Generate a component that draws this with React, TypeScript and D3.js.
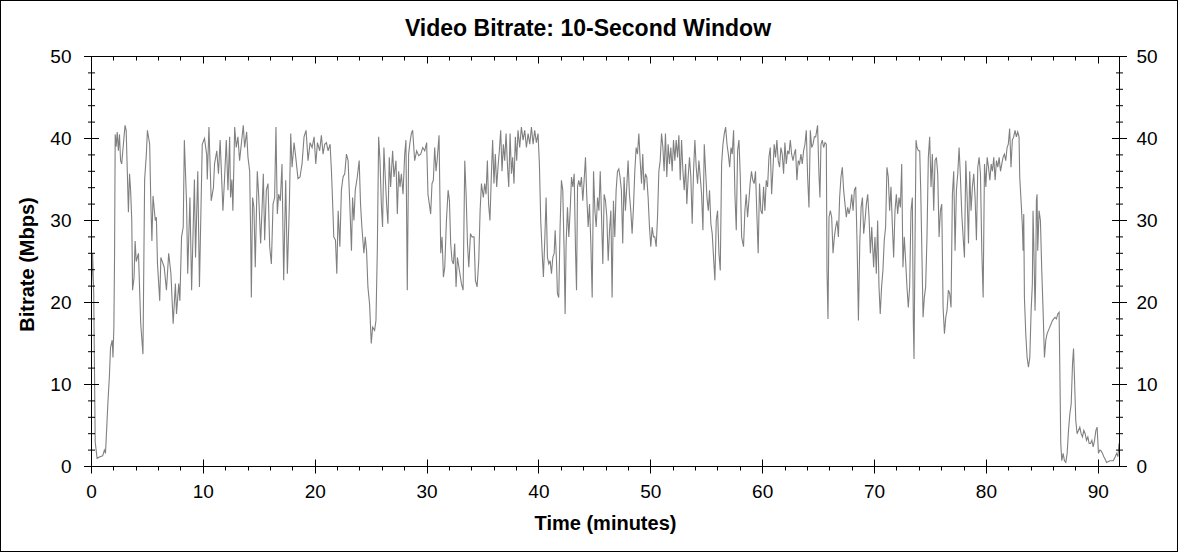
import React, { useEffect, useRef } from 'react';
import * as d3 from 'd3';

const title = 'Video Bitrate: 10-Second Window';
const xTitle = 'Time (minutes)';
const yTitle = 'Bitrate (Mbps)';
const xTicks = [0, 10, 20, 30, 40, 50, 60, 70, 80, 90];
const yTicks = [0, 10, 20, 30, 40, 50];
const xMax = 91.9;
const yMax = 50;

// [minute, Mbps]
const bitrate: [number, number][] = [
  [0, 22], [0.1, 26], [0.2, 21], [0.33, 3], [0.5, 1.0], [0.75, 1.2], [1.0, 1.3], [1.15, 2.0], [1.25, 1.6],
  [1.35, 4.4], [1.46, 7.6], [1.6, 11], [1.7, 14.5], [1.85, 15.4], [1.92, 13.3], [2.0, 17], [2.06, 25.5],
  [2.12, 40.5], [2.2, 39], [2.3, 40.8], [2.4, 38.5], [2.5, 40.5], [2.6, 37.3], [2.7, 36.9], [2.8, 38.5],
  [3.0, 41.6], [3.1, 41], [3.2, 36], [3.3, 31], [3.4, 35.7], [3.5, 33.6], [3.6, 30], [3.67, 21.5], [3.8, 23],
  [3.9, 27.5], [4.0, 25], [4.2, 26], [4.4, 17.4], [4.6, 13.7], [4.75, 35], [4.9, 38], [5.0, 41], [5.2, 39.3],
  [5.3, 32.4], [5.4, 27.5], [5.5, 33], [5.7, 30], [5.8, 30.4], [5.9, 24.7], [6.1, 20.2], [6.2, 25.5],
  [6.5, 24.3], [6.7, 21.5], [6.9, 26], [7.1, 23.5], [7.3, 17.4], [7.5, 22.3], [7.6, 18.6], [7.8, 22.3],
  [7.9, 20.2], [8.05, 28], [8.2, 29.2], [8.3, 39.8], [8.5, 32], [8.6, 23.5], [8.8, 32.8], [8.95, 21.5],
  [9.2, 35], [9.3, 25.5], [9.5, 36], [9.65, 21.9], [9.9, 39.3], [10.1, 40], [10.3, 38], [10.35, 35],
  [10.5, 41.4], [10.7, 32.4], [10.9, 34], [11.0, 36.9], [11.2, 38.5], [11.35, 35.7], [11.5, 39.8],
  [11.75, 31.2], [11.9, 35.3], [12.05, 39.8], [12.2, 33.7], [12.35, 40.2], [12.43, 32.8], [12.55, 35],
  [12.64, 31.2], [12.8, 41.4], [12.94, 38.9], [13.09, 40.2], [13.24, 37.3], [13.39, 39.3], [13.57, 41.6],
  [13.69, 38.9], [13.87, 40.8], [13.99, 37.7], [14.14, 36], [14.23, 28], [14.29, 20.6], [14.4, 32.8],
  [14.52, 31.6], [14.64, 24.3], [14.82, 36], [14.94, 33.2], [15.12, 27.2], [15.24, 31.2], [15.36, 35.7],
  [15.48, 27.6], [15.63, 33.7], [15.78, 34.5], [15.93, 26.8], [16.08, 24.7], [16.23, 32], [16.37, 32.8],
  [16.49, 41.4], [16.61, 30.8], [16.73, 33.2], [16.88, 32.4], [17.03, 36.9], [17.18, 22.7], [17.36, 34.9],
  [17.51, 23.5], [17.69, 32], [17.81, 40.6], [17.93, 36.5], [18.11, 39.5], [18.26, 37.7], [18.46, 35.1],
  [18.64, 35.3], [18.82, 36.9], [19.0, 40.2], [19.18, 41], [19.36, 37.3], [19.54, 39.5], [19.72, 38.9],
  [19.9, 40.2], [20.05, 36.9], [20.2, 39.5], [20.4, 38.5], [20.55, 40.4], [20.7, 38.1], [20.85, 39.3],
  [21.0, 39.5], [21.15, 38.5], [21.33, 39.3], [21.45, 36], [21.54, 32.8], [21.66, 28], [21.81, 27.6],
  [21.93, 23.5], [22.05, 31.2], [22.2, 26.8], [22.34, 33.7], [22.49, 35.3], [22.64, 35.7], [22.79, 38.1],
  [22.94, 37.3], [23.09, 32], [23.24, 26.3],
  [23.34, 32.8], [23.46, 30], [23.58, 33.7], [23.76, 35.3], [23.93, 37.3], [24.05, 32], [24.17, 29.2],
  [24.35, 26], [24.47, 28], [24.59, 26.3], [24.71, 21.9], [24.86, 19.8], [25.01, 15], [25.13, 17],
  [25.31, 16.6], [25.43, 17.8], [25.55, 26.3], [25.67, 40.2], [25.79, 37.3], [25.91, 32], [26.02, 29.2],
  [26.14, 38.9], [26.26, 35.3], [26.38, 32], [26.5, 29.6], [26.62, 37.7], [26.74, 34.1], [26.92, 38.5],
  [27.04, 35.3], [27.22, 37.3], [27.34, 30.8], [27.46, 36], [27.58, 34.1], [27.7, 35.7], [27.85, 33.2],
  [28.0, 38.1], [28.11, 39.8], [28.23, 21.5], [28.35, 38.1], [28.47, 39.5], [28.59, 40.6], [28.71, 41],
  [28.89, 37.3], [29.07, 38.5], [29.25, 37.9], [29.43, 38.1], [29.61, 38.9], [29.79, 38.5], [29.96, 39.5],
  [30.08, 33.2], [30.2, 32], [30.32, 30.8], [30.44, 34.5], [30.56, 34.9], [30.68, 38.9], [30.8, 36],
  [30.92, 37.7], [31.07, 40.4], [31.22, 26], [31.34, 28], [31.46, 23.1], [31.58, 24.3], [31.73, 30],
  [31.88, 33.7], [32.0, 32.4], [32.11, 27.2], [32.23, 25.1], [32.35, 24.7], [32.47, 27.2], [32.59, 21.9],
  [32.71, 25.5], [32.89, 23.9], [33.07, 22.3], [33.22, 21.5], [33.37, 37.3], [33.49, 33.2], [33.61, 27.2],
  [33.73, 24.3], [33.88, 28.4], [34.02, 28], [34.2, 28], [34.32, 22.7], [34.47, 21.9], [34.62, 25.1],
  [34.74, 31.2], [34.86, 34.5],
  [35.03, 32.8], [35.15, 34.5], [35.27, 33.2], [35.39, 37.3], [35.5, 32], [35.62, 30], [35.74, 35.3],
  [35.86, 39.8], [35.98, 34.5], [36.1, 38.1], [36.22, 34.1], [36.34, 36.5], [36.46, 38.5], [36.58, 41],
  [36.7, 36], [36.82, 39.3], [36.94, 37.3], [37.06, 40.6], [37.18, 36.9], [37.3, 34.1], [37.42, 40.6],
  [37.54, 35.7], [37.65, 37.7], [37.77, 34.5], [37.89, 40.2], [38.01, 37.3], [38.13, 41], [38.28, 38.9],
  [38.43, 41.4], [38.58, 39.8], [38.73, 41], [38.88, 38.9], [39.03, 40.6], [39.18, 39.3], [39.33, 41.4],
  [39.48, 39.3], [39.62, 41], [39.77, 39.5], [39.92, 40.6], [40.04, 36.9], [40.16, 30], [40.28, 26.3],
  [40.4, 23.1], [40.52, 27.6], [40.64, 32.8], [40.76, 25.5], [40.88, 24.7], [41.0, 25.1], [41.12, 23.5],
  [41.24, 25.5], [41.36, 26], [41.45, 28.8], [41.57, 25.1], [41.65, 21.1], [41.77, 20.6], [41.89, 29.2],
  [42.01, 34.9], [42.13, 33.7], [42.25, 26.3], [42.34, 18.6], [42.43, 27.2], [42.55, 31.6], [42.67, 28],
  [42.79, 31.2], [42.91, 35.3], [43.03, 34.1], [43.15, 35.7], [43.27, 26.3], [43.36, 21.5], [43.45, 34.1],
  [43.56, 34.9], [43.68, 34.1], [43.8, 35.3], [43.92, 32.4], [44.04, 34.9], [44.16, 37.7], [44.28, 32.8],
  [44.4, 29.2], [44.52, 32], [44.64, 27.2], [44.76, 20.6], [44.88, 36], [45.0, 31.2], [45.12, 29.2],
  [45.24, 32.8], [45.36, 31.2], [45.48, 36], [45.59, 30.8], [45.71, 24.7], [45.83, 33.2], [45.95, 32.4],
  [46.07, 30.4], [46.19, 25.1], [46.31, 28.8], [46.43, 31.2], [46.54, 20.6],
  [46.66, 32.4], [46.78, 28], [46.9, 33.7], [47.02, 36], [47.14, 36.3], [47.25, 35.3], [47.37, 33.7],
  [47.49, 27.2], [47.61, 35.3], [47.73, 31.2], [47.85, 34.1], [47.97, 37.3], [48.09, 33.2], [48.21, 31.2],
  [48.33, 28.4], [48.45, 31.6], [48.57, 36], [48.69, 38.9], [48.81, 38.1], [48.93, 40.6], [49.05, 37.3],
  [49.17, 34.5], [49.28, 38.1], [49.4, 33.7], [49.52, 35.7], [49.64, 35.3], [49.76, 32.8], [49.88, 29.2],
  [50.0, 26.8], [50.12, 29.2], [50.24, 28], [50.36, 28], [50.48, 26.8], [50.6, 30.4], [50.72, 36],
  [50.84, 37.3], [50.96, 40.6], [51.08, 38.9], [51.19, 36], [51.31, 40.6], [51.43, 35.3], [51.55, 39.3],
  [51.67, 36.9], [51.79, 38.9], [51.91, 36], [52.03, 39.8], [52.15, 37.3], [52.27, 39.8], [52.39, 37.7],
  [52.51, 40.4], [52.63, 34.9], [52.75, 39.8], [52.87, 36], [52.99, 33.7], [53.11, 36.9], [53.22, 32],
  [53.34, 35.3], [53.46, 37.7], [53.58, 35.3], [53.7, 29.6], [53.82, 36], [53.94, 39.8], [54.06, 36.5],
  [54.18, 34.5], [54.3, 37.3], [54.42, 35.3], [54.54, 33.2], [54.66, 28.8], [54.78, 39.3], [54.9, 36],
  [55.02, 32.8], [55.14, 31.2], [55.25, 33.7], [55.37, 29.6], [55.49, 28.4], [55.61, 25.5], [55.73, 22.7],
  [55.85, 30], [55.97, 31.2], [56.09, 26], [56.21, 23.9], [56.33, 36.9], [56.45, 39.3], [56.57, 40.6],
  [56.69, 41.4], [56.81, 39.3], [56.93, 38.1], [57.05, 36.5], [57.17, 38.9], [57.28, 38.1], [57.4, 41],
  [57.52, 33.2], [57.64, 28.8], [57.76, 38.5], [57.88, 39.8], [58.0, 35.3], [58.12, 28],
  [58.29, 26.8], [58.41, 31.2], [58.53, 33.2], [58.65, 30.4], [58.77, 32.4], [58.88, 34.5], [59.0, 36],
  [59.12, 34.9], [59.24, 34.5], [59.36, 36], [59.48, 30.8], [59.6, 26], [59.72, 34.5], [59.84, 31.2],
  [59.96, 30.8], [60.08, 34.1], [60.2, 31.2], [60.32, 34.9], [60.44, 34.1], [60.56, 37.7], [60.68, 38.9],
  [60.8, 33.2], [60.91, 36], [61.03, 39.3], [61.15, 37.7], [61.27, 39.8], [61.39, 37.3], [61.51, 36.5],
  [61.63, 38.9], [61.75, 38.1], [61.87, 35.7], [61.99, 39.5], [62.11, 36.9], [62.23, 38.5], [62.35, 38.1],
  [62.47, 39.8], [62.59, 38.1], [62.71, 37.3], [62.82, 38.1], [62.94, 38.7], [63.06, 34.9], [63.18, 37.3],
  [63.3, 36.9], [63.42, 38.1], [63.54, 36.9], [63.66, 38.5], [63.78, 39.3], [63.9, 41], [64.02, 35.3],
  [64.14, 31.6], [64.26, 41], [64.38, 38.9], [64.5, 39.3], [64.62, 40.2], [64.74, 40.2], [64.91, 41.6],
  [65.03, 35.7], [65.12, 32.8], [65.21, 39.3], [65.33, 39.8], [65.45, 38.9], [65.57, 39.5], [65.69, 39.3],
  [65.75, 23.9], [65.84, 18], [65.93, 30.4], [66.05, 31.2], [66.17, 30.4], [66.29, 26], [66.41, 28],
  [66.53, 29.2], [66.65, 30], [66.77, 28], [66.88, 32.8], [67.0, 35.3], [67.12, 36.5], [67.24, 33.7],
  [67.36, 32], [67.48, 30.4], [67.6, 31.6], [67.72, 30.8], [67.84, 31.6], [67.96, 33.2], [68.08, 31.2],
  [68.2, 33.7], [68.32, 34.1], [68.44, 27.2], [68.56, 17.8], [68.68, 27.2], [68.8, 31.6], [68.92, 32.8],
  [69.03, 28.4], [69.15, 30], [69.27, 32], [69.39, 33.2], [69.51, 30.4], [69.63, 26], [69.75, 29.2],
  [69.92, 24.3], [70.04, 28], [70.16, 23.5], [70.28, 30], [70.4, 21.9], [70.51, 18.6], [70.63, 21.9],
  [70.75, 23.9], [70.87, 27.6], [70.99, 29.2], [71.11, 36.5], [71.23, 35.3], [71.35, 31.2], [71.47, 34.1],
  [71.59, 29.6], [71.71, 25.5], [71.83, 31.2], [71.95, 33.2], [72.07, 30.8], [72.19, 32.8], [72.31, 31.6],
  [72.43, 36.9], [72.54, 24.3], [72.66, 28], [72.78, 25.1], [72.9, 21.9], [73.02, 19.4], [73.14, 21.9],
  [73.26, 31.2], [73.38, 32.8], [73.47, 17.4], [73.53, 13.1], [73.62, 27.2], [73.71, 39.8], [73.8, 38.9],
  [73.92, 38.5], [74.04, 38.5], [74.13, 33.7], [74.22, 27.2], [74.34, 18.2], [74.45, 20.6], [74.57, 21.9],
  [74.69, 28], [74.81, 37.7], [74.93, 40.2], [75.05, 34.1], [75.17, 38.1], [75.29, 31.2], [75.41, 37.3],
  [75.53, 37.7], [75.65, 35.7], [75.77, 28], [75.89, 31.2], [76.01, 32], [76.13, 19.4], [76.25, 16.2],
  [76.37, 18.2], [76.48, 19], [76.6, 21.5], [76.72, 21.1], [76.84, 19.4], [76.96, 33.2], [77.08, 36],
  [77.2, 26.3], [77.32, 33.7], [77.44, 35.7], [77.56, 38.9], [77.68, 35.3], [77.8, 30.8], [77.92, 28],
  [78.04, 25.5], [78.16, 37.3], [78.28, 32.8], [78.4, 27.2], [78.51, 36], [78.63, 31.2], [78.75, 34.1],
  [78.87, 35.7], [78.99, 32.8], [79.11, 27.6], [79.23, 36.5], [79.35, 37.7], [79.47, 35.7], [79.59, 26.3],
  [79.71, 20.6], [79.83, 36.9], [79.95, 34.1], [80.07, 37.7], [80.19, 36.5], [80.31, 34.9], [80.43, 36.9],
  [80.54, 36], [80.66, 37.7], [80.78, 34.9], [80.9, 37.3], [81.02, 36.5], [81.14, 37.7], [81.26, 36],
  [81.38, 36.9],
  [81.49, 37.7], [81.61, 38.1], [81.73, 37.3], [81.85, 38.9], [81.96, 39.3], [82.08, 41.2], [82.2, 36.5],
  [82.32, 39.8], [82.44, 40.2], [82.56, 41], [82.68, 40.2], [82.8, 40.8], [82.92, 40.2], [82.98, 35.3],
  [83.1, 32.4], [83.22, 29.2], [83.28, 26.3], [83.34, 30.8], [83.4, 20.6], [83.52, 16.2], [83.64, 13.3],
  [83.76, 12.1], [83.88, 13.3], [84.0, 19], [84.11, 22.3], [84.17, 31.2], [84.23, 27.6], [84.35, 19],
  [84.41, 23.1], [84.47, 32.4], [84.53, 33.2], [84.59, 26.3], [84.71, 31.2], [84.83, 30], [84.95, 23.9],
  [85.07, 19], [85.19, 13.3], [85.31, 15.4], [85.43, 16.2], [85.55, 16.6], [85.67, 17], [85.79, 17.4],
  [85.9, 17.8], [86.02, 18], [86.14, 18.2], [86.26, 18], [86.38, 18.6], [86.5, 18.8], [86.56, 12.5],
  [86.65, 2.8], [86.74, 0.7], [86.86, 1.6], [86.98, 0.7], [87.1, 0.5], [87.22, 1.6], [87.34, 4.4],
  [87.46, 6.4], [87.58, 7.6], [87.7, 12.5], [87.79, 14.4], [87.87, 11], [87.99, 5.6], [88.11, 4],
  [88.23, 4.4], [88.35, 4.8], [88.47, 4], [88.59, 3.6], [88.71, 4.4], [88.83, 4], [88.95, 3.2],
  [89.07, 3.6], [89.19, 2.8], [89.31, 2.8], [89.43, 3.2], [89.55, 2.4], [89.67, 3.2], [89.79, 4.4],
  [89.9, 4.8], [90.02, 1.6], [90.14, 2], [90.26, 1.9], [90.38, 1.6], [90.5, 1.2], [90.62, 0.9],
  [90.74, 0.5], [91.04, 0.7], [91.34, 0.7], [91.52, 1.2], [91.64, 1.6], [91.76, 1.2], [91.85, 2.8],
  [91.9, 2],
];

const font = '"Liberation Sans", Arial, sans-serif';

const App = () => {
  const ref = useRef<SVGSVGElement>(null);

  useEffect(() => {
    const width = 1178;
    const height = 552;
    const left = 91.5;
    const right = 1119.5;
    const top = 56.5;
    const bottom = 466.5;

    const svg = d3.select(ref.current);
    svg.selectAll('*').remove();

    const x = d3.scaleLinear().domain([0, xMax]).range([left, right]);
    const y = d3.scaleLinear().domain([0, yMax]).range([bottom, top]);
    const px = (v: number) => Math.round(x(v) - 0.5) + 0.5;

    svg.append('rect')
      .attr('x', 0.5).attr('y', 0.5)
      .attr('width', width - 1).attr('height', height - 1)
      .attr('fill', '#fff').attr('stroke', '#000');

    const line = d3.line<[number, number]>()
      .x(d => x(d[0]))
      .y(d => y(d[1]));

    svg.append('path')
      .datum(bitrate)
      .attr('d', line)
      .attr('fill', 'none')
      .attr('stroke', '#808080')
      .attr('stroke-width', 1.1);

    svg.append('rect')
      .attr('x', left).attr('y', top)
      .attr('width', right - left).attr('height', bottom - top)
      .attr('fill', 'none').attr('stroke', '#000');

    const ticks = svg.append('g').attr('stroke', '#000').attr('stroke-width', 1);
    const yMinor = d3.range(0, yMax + 1, 2).filter(v => v % 10 !== 0);
    const xMinor = d3.range(0, xMax, 2).filter(v => v % 10 !== 0);

    // y axes, both sides, ticks cross the axis
    [left, right].forEach(ax => {
      yTicks.forEach(v => {
        ticks.append('line').attr('x1', ax - 7.5).attr('x2', ax + 7.5).attr('y1', y(v)).attr('y2', y(v));
      });
      yMinor.forEach(v => {
        ticks.append('line').attr('x1', ax - 3.5).attr('x2', ax + 3.5).attr('y1', y(v)).attr('y2', y(v));
      });
    });

    // bottom axis crosses, top axis points in
    xTicks.forEach(v => {
      ticks.append('line').attr('x1', px(v)).attr('x2', px(v)).attr('y1', bottom - 7).attr('y2', bottom + 7);
      ticks.append('line').attr('x1', px(v)).attr('x2', px(v)).attr('y1', top).attr('y2', top + 7);
    });
    xMinor.forEach(v => {
      ticks.append('line').attr('x1', px(v)).attr('x2', px(v)).attr('y1', bottom).attr('y2', bottom + 4);
      ticks.append('line').attr('x1', px(v)).attr('x2', px(v)).attr('y1', top).attr('y2', top + 4);
    });

    const labels = svg.append('g').attr('font-family', font).attr('font-size', 19).attr('fill', '#000');

    yTicks.forEach(v => {
      labels.append('text').attr('x', left - 20).attr('y', y(v)).attr('dy', '0.34em')
        .attr('text-anchor', 'end').text(v);
      labels.append('text').attr('x', right + 17).attr('y', y(v)).attr('dy', '0.34em')
        .attr('text-anchor', 'start').text(v);
    });

    xTicks.forEach(v => {
      labels.append('text').attr('x', x(v)).attr('y', 498)
        .attr('text-anchor', 'middle').text(v);
    });

    svg.append('text')
      .attr('x', width / 2 - 1).attr('y', 36)
      .attr('text-anchor', 'middle')
      .attr('font-family', font).attr('font-size', 23).attr('font-weight', 'bold')
      .text(title);

    svg.append('text')
      .attr('x', (left + right) / 2).attr('y', 530)
      .attr('text-anchor', 'middle')
      .attr('font-family', font).attr('font-size', 20).attr('font-weight', 'bold')
      .text(xTitle);

    svg.append('text')
      .attr('transform', `translate(34, ${(top + bottom) / 2 + 3}) rotate(-90)`)
      .attr('text-anchor', 'middle')
      .attr('font-family', font).attr('font-size', 20).attr('font-weight', 'bold')
      .text(yTitle);
  }, []);

  return (
    <div style={{ position: 'absolute', left: 0, top: 0 }}>
      <svg ref={ref} width={1178} height={552} style={{ display: 'block' }}></svg>
    </div>
  );
};

export default App;
